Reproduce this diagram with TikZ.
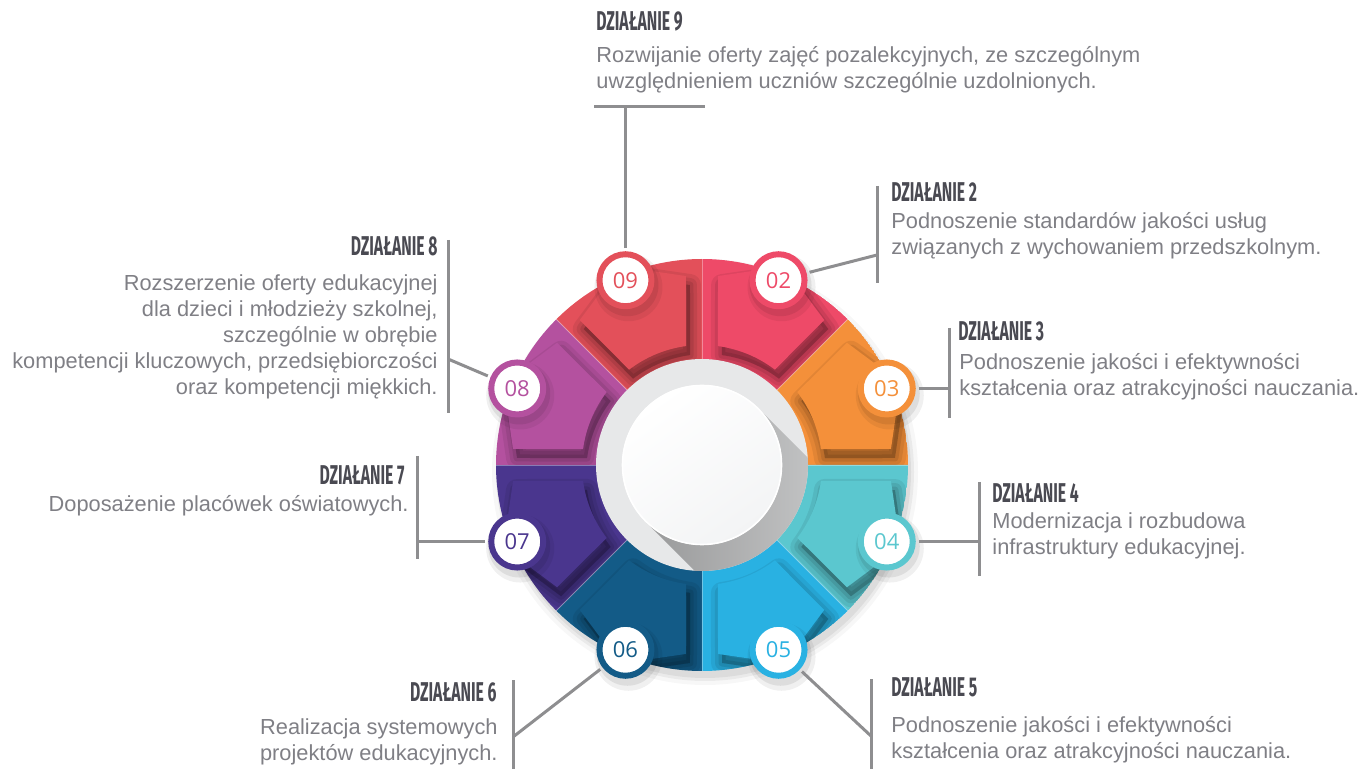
\documentclass[tikz,border=0pt]{standalone}
\usepackage{fontspec}
\setmainfont{Liberation Sans}
\newfontfamily\headfont{Fira Sans}[FakeStretch=0.58]
\newfontfamily\numfont{Open Sans}
\usetikzlibrary{calc}

\definecolor{c02}{HTML}{EE4A68}
\definecolor{c03}{HTML}{F4903A}
\definecolor{c04}{HTML}{5BC7CF}
\definecolor{c05}{HTML}{29B1E2}
\definecolor{c06}{HTML}{135B87}
\definecolor{c07}{HTML}{4A368E}
\definecolor{c08}{HTML}{B4519F}
\definecolor{c09}{HTML}{E3505A}
\definecolor{ringgray}{HTML}{E7E8E9}
\definecolor{diskwhite}{HTML}{F3F4F5}
\definecolor{linegray}{HTML}{8E8E90}
\definecolor{txtgray}{HTML}{7F7F85}
\definecolor{headgray}{HTML}{4A4A52}

\tikzset{conn/.style={draw=linegray, line width=1.5pt}}
\tikzset{badge/.style={circle, draw=#1, line width=3pt, fill=white, text=#1,
    minimum size=26pt, inner sep=0pt, font=\numfont\fontsize{11}{13}\selectfont}}
\tikzset{head/.style={font=\headfont\bfseries\fontsize{13.6}{15}\selectfont, text=headgray, inner sep=0pt}}
\tikzset{desc/.style={font=\fontsize{10.9}{13}\selectfont, text=txtgray, inner sep=0pt}}

\newcommand\lcol[1]{\begin{tabular}[t]{@{}l@{}}#1\end{tabular}}
\newcommand\rcol[1]{\begin{tabular}[t]{@{}r@{}}#1\end{tabular}}

\begin{document}
\begin{tikzpicture}[x=0.5pt, y=0.5pt]
\useasboundingbox (0,0) rectangle (1360,-769);

% wheel
\begin{scope}[shift={(702,-465)}]
  \foreach \r/\op in {213/.03, 209/.05, 206/.06}
    \fill[black, opacity=\op] (3,-7) circle (\r);
  \foreach \m/\col in {67.5/c02, 22.5/c03, -22.5/c04, -67.5/c05,
                       -112.5/c06, -157.5/c07, 157.5/c08, 112.5/c09}{
    \begin{scope}
      \clip (0,0) -- (\m-22.5:206) arc[start angle=\m-22.5, end angle=\m+22.5, radius=206] -- cycle;
      \fill[\col] (0,0) circle (206);
      % soft shadow of the card
      \foreach \lw/\op in {11pt/.07, 7pt/.08, 3.5pt/.09}
        \filldraw[black, opacity=\op, line width=\lw, line join=round,
                  shift={(4,-9)}, rotate=\m-90]
          (75.1:120) -- (57.5,180.7) -- (0,215) -- (-57.5,180.7) -- (104.9:120)
          arc[start angle=104.9, end angle=75.1, radius=120] -- cycle;
      \fill[\col, rotate=\m-90]
        (75.1:120) -- (57.5,180.7) -- (0,215) -- (-57.5,180.7) -- (104.9:120)
        arc[start angle=104.9, end angle=75.1, radius=120] -- cycle;
    \end{scope}
  }
  \foreach \a in {0,45,...,315}
    \draw[white, opacity=.35, line width=.4pt] (0,0) -- (\a:206);

  % centre
  \fill[ringgray] (0,0) circle (106);
  \begin{scope}
    \clip (0,0) circle (106);
    \shade[rotate=-45, left color=black!34!ringgray, right color=black!14!ringgray]
      (0,-80) rectangle (106,80);
  \end{scope}
  \shade[top color=white, bottom color=diskwhite, shading angle=35] (0,0) circle (80);
  \draw[white, line width=.8pt] (0,0) circle (79.5);

  % badges
  \foreach \m/\col/\num in {67.5/c02/02, 22.5/c03/03, -22.5/c04/04, -67.5/c05/05,
                            -112.5/c06/06, -157.5/c07/07, 157.5/c08/08, 112.5/c09/09}{
    \fill[black, opacity=.06, shift={(3,-7)}] (\m:200) circle (34);
    \fill[black, opacity=.08, shift={(2,-5)}] (\m:200) circle (31);
    \node[badge=\col] (b\num) at (\m:200) {\num};
  }
\end{scope}

% connectors
\coordinate (k9) at (b09 |- 0,-107);
\coordinate (k2) at (877,-255);
\coordinate (k3) at (b03 -| 949,0);
\coordinate (k4) at (b04 -| 979,0);
\coordinate (k5) at (871,-736);
\coordinate (k6) at (513,-737);
\coordinate (k7) at (b07 -| 417,0);
\coordinate (k8) at (448,-359);

\draw[conn, shorten <=1.5pt] (b09) -- (k9);
\draw[conn, shorten <=1.5pt] (b02) -- (k2);
\draw[conn, shorten <=1.5pt] (b03) -- (k3);
\draw[conn, shorten <=1.5pt] (b04) -- (k4);
\draw[conn, shorten <=1.5pt] (b05) -- (k5);
\draw[conn, shorten <=1.5pt] (b06) -- (k6);
\draw[conn, shorten <=1.5pt] (b07) -- (k7);
\draw[conn, shorten <=1.5pt] (b08) -- (k8);

\draw[conn] (594,-107) -- (705,-107);
\draw[conn] (877,-186) -- (877,-283);
\draw[conn] (949,-328) -- (949,-418);
\draw[conn] (979,-482) -- (979,-576);
\draw[conn] (871,-679) -- (871,-769);
\draw[conn] (513,-680) -- (513,-769);
\draw[conn] (417,-456) -- (417,-559);
\draw[conn] (448,-240) -- (448,-413);

% texts
\node[head, anchor=base west] (h9) at (596,-31) {DZIAŁANIE 9};
\node[desc, anchor=base west] (d9) at (596,-63)
  {\lcol{Rozwijanie oferty zajęć pozalekcyjnych, ze szczególnym\\uwzględnieniem uczniów szczególnie uzdolnionych.}};

\node[head, anchor=base west] (h2) at (891,-202) {DZIAŁANIE 2};
\node[desc, anchor=base west] (d2) at (891,-229)
  {\lcol{Podnoszenie standardów jakości usług\\związanych z wychowaniem przedszkolnym.}};

\node[head, anchor=base west] (h3) at (958,-341) {DZIAŁANIE 3};
\node[desc, anchor=base west] (d3) at (959,-370)
  {\lcol{Podnoszenie jakości i efektywności\\kształcenia oraz atrakcyjności nauczania.}};

\node[head, anchor=base west] (h4) at (992,-503) {DZIAŁANIE 4};
\node[desc, anchor=base west] (d4) at (992,-529)
  {\lcol{Modernizacja i rozbudowa\\infrastruktury edukacyjnej.}};

\node[head, anchor=base west] (h5) at (891,-697) {DZIAŁANIE 5};
\node[desc, anchor=base west] (d5) at (891,-733)
  {\lcol{Podnoszenie jakości i efektywności\\kształcenia oraz atrakcyjności nauczania.}};

\node[head, anchor=base east] (h6) at (497,-701) {DZIAŁANIE 6};
\node[desc, anchor=base east] (d6) at (498,-734)
  {\rcol{Realizacja systemowych\\projektów edukacyjnych.}};

\node[head, anchor=base east] (h7) at (405,-485) {DZIAŁANIE 7};
\node[desc, anchor=base east] (d7) at (409,-512)
  {\rcol{Doposażenie placówek oświatowych.}};

\node[head, anchor=base east] (h8) at (438,-256) {DZIAŁANIE 8};
\node[desc, anchor=base east] (d8) at (438,-291)
  {\rcol{Rozszerzenie oferty edukacyjnej\\dla dzieci i młodzieży szkolnej,\\szczególnie w obrębie\\kompetencji kluczowych, przedsiębiorczości\\oraz kompetencji miękkich.}};
\end{tikzpicture}
\end{document}
